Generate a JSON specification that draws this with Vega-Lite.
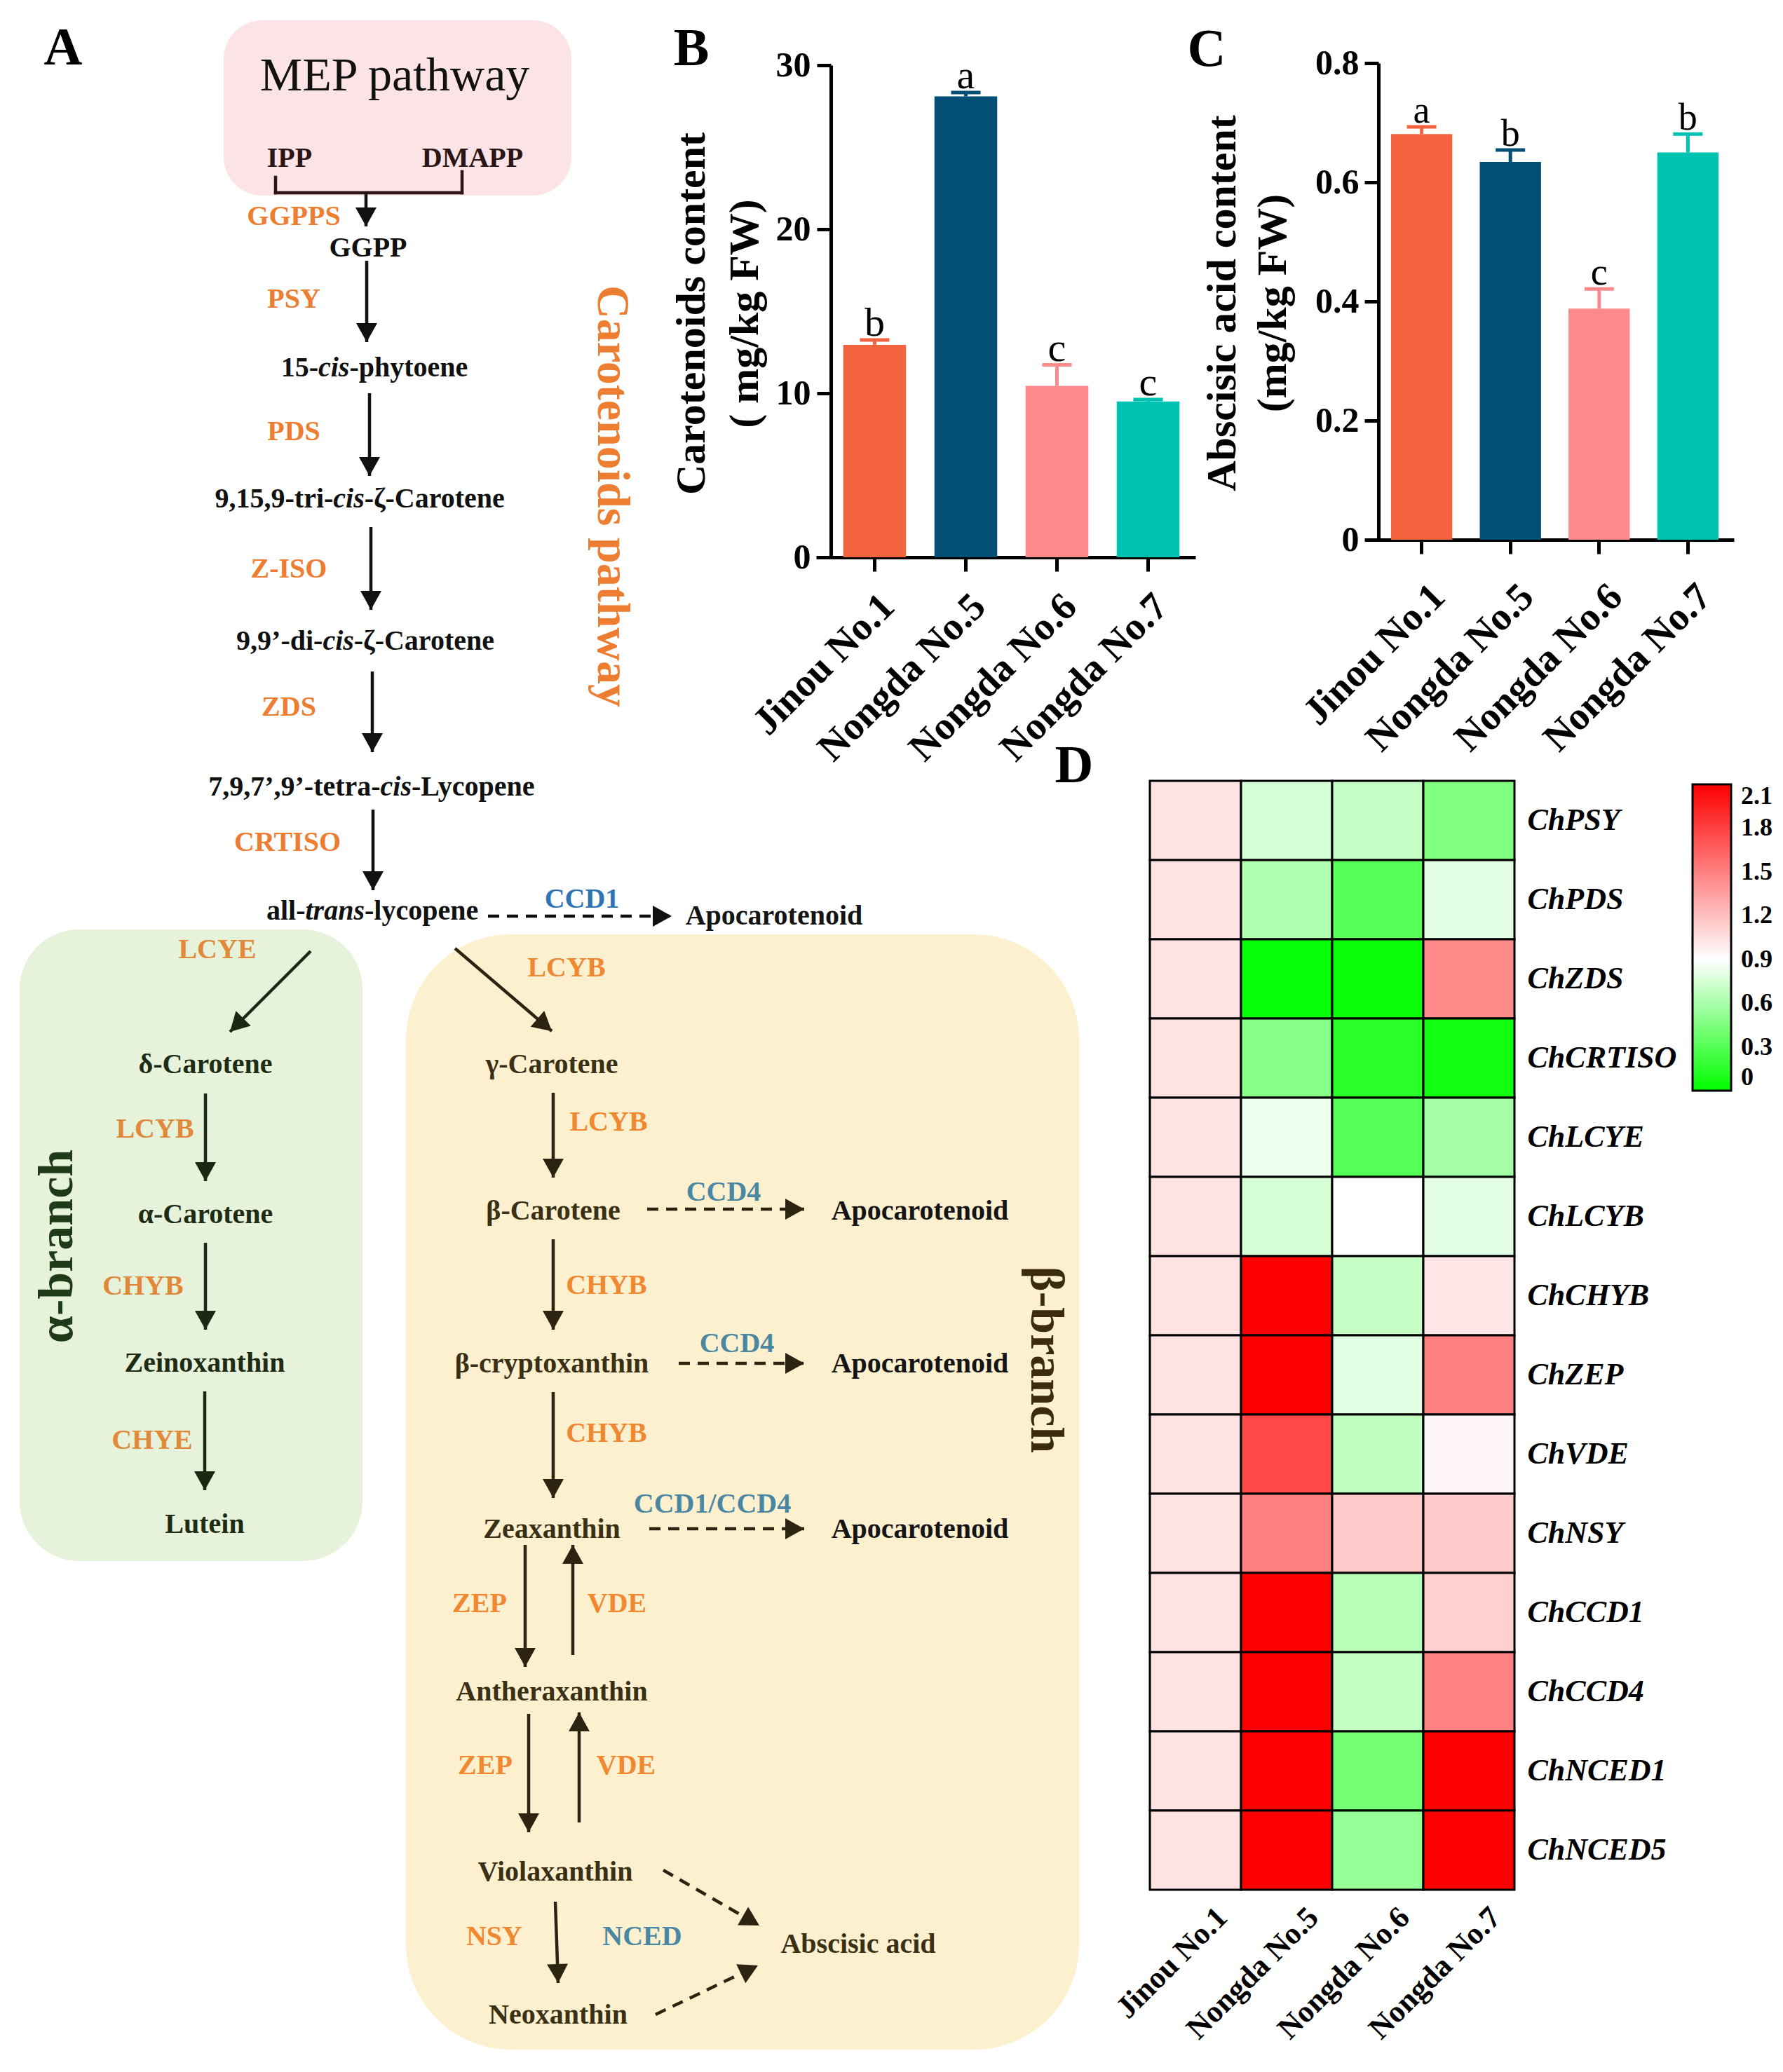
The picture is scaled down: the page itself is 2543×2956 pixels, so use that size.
{
  "$schema": "https://vega.github.io/schema/vega-lite/v6.json",
  "usermeta": {"embedOptions": {"actions": false}},
  "background": "white",
  "padding": 0,
  "autosize": {"type": "pad"},
  "config": {
    "font": "Liberation Serif",
    "view": {"stroke": null},
    "text": {"font": "Liberation Serif"},
    "axis": {"labelFont": "Liberation Serif", "titleFont": "Liberation Serif"},
    "legend": {"labelFont": "Liberation Serif", "titleFont": "Liberation Serif"}
  },
  "columns": 3,
  "spacing": 0,
  "bounds": "flush",
  "align": "each",
  "resolve": {"scale": {"x": "independent", "y": "independent", "color": "independent"}},
  "concat": [
    {
      "width": 1164,
      "height": 795,
      "data": {"values": [
        {"kind":"box","region":"mep","x":319,"y":29,"x2":815,"y2":279},
        {"kind":"box","region":"alpha","x":28,"y":1326,"x2":517,"y2":2227},
        {"kind":"box","region":"beta","x":579,"y":1333,"x2":1539,"y2":2924},
        {"kind":"link","region":"mep","x":393,"y":253,"x2":393,"y2":275},
        {"kind":"link","region":"mep","x":393,"y":275,"x2":659,"y2":275},
        {"kind":"link","region":"mep","x":659,"y":245,"x2":659,"y2":275},
        {"kind":"arrow","line":"solid","region":"main","x":522,"y":275,"x2":522,"y2":323,"heading":180},
        {"kind":"arrow","line":"solid","region":"main","x":523,"y":372,"x2":523,"y2":488,"heading":180},
        {"kind":"arrow","line":"solid","region":"main","x":527,"y":561,"x2":527,"y2":679,"heading":180},
        {"kind":"arrow","line":"solid","region":"main","x":529,"y":752,"x2":529,"y2":870,"heading":180},
        {"kind":"arrow","line":"solid","region":"main","x":531,"y":958,"x2":531,"y2":1073,"heading":180},
        {"kind":"arrow","line":"solid","region":"main","x":532,"y":1155,"x2":532,"y2":1270,"heading":180},
        {"kind":"arrow","line":"dashed","region":"main","x":696,"y":1307,"x2":958,"y2":1307,"heading":90},
        {"kind":"arrow","line":"solid","region":"alpha","x":443,"y":1357,"x2":328,"y2":1472,"heading":225},
        {"kind":"arrow","line":"solid","region":"alpha","x":293,"y":1560,"x2":293,"y2":1685,"heading":180},
        {"kind":"arrow","line":"solid","region":"alpha","x":293,"y":1773,"x2":293,"y2":1897,"heading":180},
        {"kind":"arrow","line":"solid","region":"alpha","x":292,"y":1985,"x2":292,"y2":2126,"heading":180},
        {"kind":"arrow","line":"solid","region":"beta","x":649,"y":1353,"x2":787,"y2":1471,"heading":130.5},
        {"kind":"arrow","line":"solid","region":"beta","x":789,"y":1559,"x2":789,"y2":1680,"heading":180},
        {"kind":"arrow","line":"solid","region":"beta","x":789,"y":1768,"x2":789,"y2":1897,"heading":180},
        {"kind":"arrow","line":"solid","region":"beta","x":789,"y":1986,"x2":789,"y2":2137,"heading":180},
        {"kind":"arrow","line":"solid","region":"beta","x":749,"y":2204,"x2":749,"y2":2378,"heading":180},
        {"kind":"arrow","line":"solid","region":"beta","x":817,"y":2361,"x2":817,"y2":2204,"heading":0},
        {"kind":"arrow","line":"solid","region":"beta","x":754,"y":2445,"x2":754,"y2":2614,"heading":180},
        {"kind":"arrow","line":"solid","region":"beta","x":826,"y":2600,"x2":826,"y2":2443,"heading":0},
        {"kind":"arrow","line":"solid","region":"beta","x":792,"y":2713,"x2":796,"y2":2829,"heading":178},
        {"kind":"arrow","line":"dashed","region":"beta","x":923,"y":1725,"x2":1147,"y2":1725,"heading":90},
        {"kind":"arrow","line":"dashed","region":"beta","x":968,"y":1945,"x2":1147,"y2":1945,"heading":90},
        {"kind":"arrow","line":"dashed","region":"beta","x":926,"y":2181,"x2":1147,"y2":2181,"heading":90},
        {"kind":"arrow","line":"dashed","region":"beta","x":946,"y":2668,"x2":1083,"y2":2747,"heading":120},
        {"kind":"arrow","line":"dashed","region":"beta","x":935,"y":2874,"x2":1081,"y2":2804,"heading":64},
        {"kind":"text","role":"panel","region":"main","label":"A","x":90,"y":69},
        {"kind":"text","role":"panel","region":"main","label":"B","x":986,"y":70},
        {"kind":"text","role":"panel","region":"main","label":"C","x":1721,"y":71},
        {"kind":"text","role":"title","region":"mep","label":"MEP pathway","x":563,"y":109},
        {"kind":"text","role":"compound","region":"mep","label":"IPP","x":413,"y":226},
        {"kind":"text","role":"compound","region":"mep","label":"DMAPP","x":674,"y":226},
        {"kind":"text","role":"enzyme","region":"main","label":"GGPPS","x":419,"y":309},
        {"kind":"text","role":"enzyme","region":"main","label":"PSY","x":419,"y":427},
        {"kind":"text","role":"enzyme","region":"main","label":"PDS","x":419,"y":616},
        {"kind":"text","role":"enzyme","region":"main","label":"Z-ISO","x":412,"y":812},
        {"kind":"text","role":"enzyme","region":"main","label":"ZDS","x":412,"y":1009},
        {"kind":"text","role":"enzyme","region":"main","label":"CRTISO","x":410,"y":1202},
        {"kind":"text","role":"compound","region":"main","label":"GGPP","x":525,"y":354},
        {"kind":"seg","part":"upright","label":"15-","x":400.7,"y":525},
        {"kind":"seg","part":"italic","label":"cis","x":454.0,"y":525},
        {"kind":"seg","part":"upright","label":"-phytoene","x":498.4,"y":525},
        {"kind":"seg","part":"upright","label":"9,15,9-tri-","x":306.5,"y":712},
        {"kind":"seg","part":"italic","label":"cis","x":475.3,"y":712},
        {"kind":"seg","part":"upright","label":"-ζ-Carotene","x":519.7,"y":712},
        {"kind":"seg","part":"upright","label":"9,9’-di-","x":337.1,"y":915},
        {"kind":"seg","part":"italic","label":"cis","x":460.4,"y":915},
        {"kind":"seg","part":"upright","label":"-ζ-Carotene","x":504.8,"y":915},
        {"kind":"seg","part":"upright","label":"7,9,7’,9’-tetra-","x":297.2,"y":1123},
        {"kind":"seg","part":"italic","label":"cis","x":542.6,"y":1123},
        {"kind":"seg","part":"upright","label":"-Lycopene","x":587.0,"y":1123},
        {"kind":"seg","part":"upright","label":"all-","x":379.9,"y":1300},
        {"kind":"seg","part":"italic","label":"trans","x":435.5,"y":1300},
        {"kind":"seg","part":"upright","label":"-lycopene","x":520.0,"y":1300},
        {"kind":"text","role":"cleavage","region":"main","label":"CCD1","x":830,"y":1283},
        {"kind":"text","role":"product","region":"main","label":"Apocarotenoid","x":1104,"y":1307},
        {"kind":"text","role":"pathway","region":"main","label":"Carotenoids pathway","x":873,"y":708},
        {"kind":"text","role":"enzyme","region":"alpha","label":"LCYE","x":310,"y":1355},
        {"kind":"text","role":"enzyme","region":"alpha","label":"LCYB","x":221,"y":1611},
        {"kind":"text","role":"enzyme","region":"alpha","label":"CHYB","x":204,"y":1835},
        {"kind":"text","role":"enzyme","region":"alpha","label":"CHYE","x":217,"y":2055},
        {"kind":"text","role":"compound","region":"alpha","label":"δ-Carotene","x":293,"y":1519},
        {"kind":"text","role":"compound","region":"alpha","label":"α-Carotene","x":293,"y":1733},
        {"kind":"text","role":"compound","region":"alpha","label":"Zeinoxanthin","x":292,"y":1945},
        {"kind":"text","role":"compound","region":"alpha","label":"Lutein","x":292,"y":2175},
        {"kind":"text","role":"branch","region":"alpha","label":"α-branch","x":82,"y":1778},
        {"kind":"text","role":"enzyme","region":"beta","label":"LCYB","x":808,"y":1381},
        {"kind":"text","role":"enzyme","region":"beta","label":"LCYB","x":868,"y":1601},
        {"kind":"text","role":"enzyme","region":"beta","label":"CHYB","x":865,"y":1834},
        {"kind":"text","role":"enzyme","region":"beta","label":"CHYB","x":865,"y":2045},
        {"kind":"text","role":"enzyme","region":"beta","label":"ZEP","x":684,"y":2288},
        {"kind":"text","role":"enzyme","region":"beta","label":"VDE","x":880,"y":2288},
        {"kind":"text","role":"enzyme","region":"beta","label":"ZEP","x":692,"y":2519},
        {"kind":"text","role":"enzyme","region":"beta","label":"VDE","x":893,"y":2519},
        {"kind":"text","role":"enzyme","region":"beta","label":"NSY","x":705,"y":2763},
        {"kind":"text","role":"cleavage","region":"beta","label":"CCD4","x":1032,"y":1701},
        {"kind":"text","role":"cleavage","region":"beta","label":"CCD4","x":1051,"y":1917},
        {"kind":"text","role":"cleavage","region":"beta","label":"CCD1/CCD4","x":1016,"y":2146},
        {"kind":"text","role":"cleavage","region":"beta","label":"NCED","x":916,"y":2763},
        {"kind":"text","role":"compound","region":"beta","label":"γ-Carotene","x":787,"y":1519},
        {"kind":"text","role":"compound","region":"beta","label":"β-Carotene","x":789,"y":1728},
        {"kind":"text","role":"compound","region":"beta","label":"β-cryptoxanthin","x":787,"y":1946},
        {"kind":"text","role":"compound","region":"beta","label":"Zeaxanthin","x":787,"y":2182},
        {"kind":"text","role":"compound","region":"beta","label":"Antheraxanthin","x":787,"y":2414},
        {"kind":"text","role":"compound","region":"beta","label":"Violaxanthin","x":792,"y":2671},
        {"kind":"text","role":"compound","region":"beta","label":"Neoxanthin","x":796,"y":2875},
        {"kind":"text","role":"compound","region":"beta","label":"Abscisic acid","x":1224,"y":2774},
        {"kind":"text","role":"product","region":"beta","label":"Apocarotenoid","x":1312,"y":1728},
        {"kind":"text","role":"product","region":"beta","label":"Apocarotenoid","x":1312,"y":1946},
        {"kind":"text","role":"product","region":"beta","label":"Apocarotenoid","x":1312,"y":2182},
        {"kind":"text","role":"branch","region":"beta","label":"β-branch","x":1491,"y":1940}
      ]},
      "encoding": {
        "x": {"field": "x", "type": "quantitative", "scale": {"domain": [0, 1164], "range": [0, 1164], "nice": false, "zero": false}, "axis": null},
        "y": {"field": "y", "type": "quantitative", "scale": {"domain": [0, 795], "range": [0, 795], "nice": false, "zero": false}, "axis": null}
      },
      "resolve": {"scale": {"color": "independent"}},
      "layer": [
        {"transform": [{"filter": "datum.kind === 'box' && datum.region === 'mep'"}],
         "mark": {"type": "rect", "cornerRadius": 55, "color": "#fce4e6"},
         "encoding": {"x2": {"field": "x2"}, "y2": {"field": "y2"}}},
        {"transform": [{"filter": "datum.kind === 'box' && datum.region === 'alpha'"}],
         "mark": {"type": "rect", "cornerRadius": 85, "color": "#e6f2d9"},
         "encoding": {"x2": {"field": "x2"}, "y2": {"field": "y2"}}},
        {"transform": [{"filter": "datum.kind === 'box' && datum.region === 'beta'"}],
         "mark": {"type": "rect", "cornerRadius": 150, "color": "#fdf0cf"},
         "encoding": {"x2": {"field": "x2"}, "y2": {"field": "y2"}}},
        {"transform": [{"filter": "datum.kind === 'link'"}],
         "mark": {"type": "rule", "strokeWidth": 4.5, "strokeCap": "square", "color": "#2b1515"},
         "encoding": {"x2": {"field": "x2"}, "y2": {"field": "y2"}}},
        {"transform": [{"filter": "datum.kind === 'arrow' && datum.line === 'solid'"}],
         "mark": {"type": "rule", "strokeWidth": 4.5},
         "encoding": {"x2": {"field": "x2"}, "y2": {"field": "y2"},
           "color": {"field": "region", "type": "nominal", "scale": {"domain": ["main", "alpha", "beta"], "range": ["#111111", "#1b2812", "#2c2410"]}, "legend": null}}},
        {"transform": [{"filter": "datum.kind === 'arrow' && datum.line === 'dashed'"}],
         "mark": {"type": "rule", "strokeWidth": 4.5, "strokeDash": [16, 11]},
         "encoding": {"x2": {"field": "x2"}, "y2": {"field": "y2"},
           "color": {"field": "region", "type": "nominal", "scale": {"domain": ["main", "alpha", "beta"], "range": ["#111111", "#1b2812", "#2c2410"]}, "legend": null}}},
        {"transform": [{"filter": "datum.kind === 'arrow'"}],
         "mark": {"type": "point", "shape": "M0,0L-1,1.8L1,1.8Z", "filled": true, "opacity": 1, "size": 900, "strokeWidth": 0},
         "encoding": {
           "x": {"field": "x2", "type": "quantitative", "scale": {"domain": [0, 1164], "range": [0, 1164], "nice": false, "zero": false}, "axis": null},
           "y": {"field": "y2", "type": "quantitative", "scale": {"domain": [0, 795], "range": [0, 795], "nice": false, "zero": false}, "axis": null},
           "angle": {"field": "heading", "type": "quantitative", "scale": null},
           "color": {"field": "region", "type": "nominal", "scale": {"domain": ["main", "alpha", "beta"], "range": ["#111111", "#1b2812", "#2c2410"]}, "legend": null}}},
        {"transform": [{"filter": "datum.kind === 'text' && datum.role === 'compound'"}],
         "mark": {"type": "text", "fontSize": 40, "fontWeight": "bold", "align": "center", "baseline": "middle"},
         "encoding": {"text": {"field": "label", "type": "nominal"},
           "color": {"field": "region", "type": "nominal", "scale": {"domain": ["main", "mep", "alpha", "beta"], "range": ["#111111", "#2b1515", "#1f2c15", "#3a3015"]}, "legend": null}}},
        {"transform": [{"filter": "datum.kind === 'seg' && datum.part === 'upright'"}],
         "mark": {"type": "text", "fontSize": 40, "fontWeight": "bold", "align": "left", "baseline": "middle", "color": "#111111"},
         "encoding": {"text": {"field": "label", "type": "nominal"}}},
        {"transform": [{"filter": "datum.kind === 'seg' && datum.part === 'italic'"}],
         "mark": {"type": "text", "fontSize": 40, "fontWeight": "bold", "fontStyle": "italic", "align": "left", "baseline": "middle", "color": "#111111"},
         "encoding": {"text": {"field": "label", "type": "nominal"}}},
        {"transform": [{"filter": "datum.kind === 'text' && datum.role === 'product'"}],
         "mark": {"type": "text", "fontSize": 40, "fontWeight": "bold", "align": "center", "baseline": "middle", "color": "#151515"},
         "encoding": {"text": {"field": "label", "type": "nominal"}}},
        {"transform": [{"filter": "datum.kind === 'text' && datum.role === 'enzyme'"}],
         "mark": {"type": "text", "fontSize": 40, "fontWeight": "bold", "align": "center", "baseline": "middle"},
         "encoding": {"text": {"field": "label", "type": "nominal"},
           "color": {"field": "region", "type": "nominal", "scale": {"domain": ["main", "alpha", "beta"], "range": ["#ed7d31", "#e1893a", "#ef8830"]}, "legend": null}}},
        {"transform": [{"filter": "datum.kind === 'text' && datum.role === 'cleavage'"}],
         "mark": {"type": "text", "fontSize": 40, "fontWeight": "bold", "align": "center", "baseline": "middle"},
         "encoding": {"text": {"field": "label", "type": "nominal"},
           "color": {"field": "region", "type": "nominal", "scale": {"domain": ["main", "beta"], "range": ["#2e75b6", "#4a87a2"]}, "legend": null}}},
        {"transform": [{"filter": "datum.kind === 'text' && datum.role === 'title'"}],
         "mark": {"type": "text", "fontSize": 68, "fontWeight": "normal", "align": "center", "baseline": "middle", "color": "#111111"},
         "encoding": {"text": {"field": "label", "type": "nominal"}}},
        {"transform": [{"filter": "datum.kind === 'text' && datum.role === 'panel'"}],
         "mark": {"type": "text", "fontSize": 76, "fontWeight": "bold", "align": "center", "baseline": "middle", "color": "#000000"},
         "encoding": {"text": {"field": "label", "type": "nominal"}}},
        {"transform": [{"filter": "datum.kind === 'text' && datum.role === 'pathway'"}],
         "mark": {"type": "text", "fontSize": 66, "fontWeight": "bold", "align": "center", "baseline": "middle", "angle": 90, "color": "#ed7d31"},
         "encoding": {"text": {"field": "label", "type": "nominal"}}},
        {"transform": [{"filter": "datum.kind === 'text' && datum.role === 'branch' && datum.region === 'alpha'"}],
         "mark": {"type": "text", "fontSize": 70, "fontWeight": "bold", "align": "center", "baseline": "middle", "angle": 270, "color": "#1e3a17"},
         "encoding": {"text": {"field": "label", "type": "nominal"}}},
        {"transform": [{"filter": "datum.kind === 'text' && datum.role === 'branch' && datum.region === 'beta'"}],
         "mark": {"type": "text", "fontSize": 68, "fontWeight": "bold", "align": "center", "baseline": "middle", "angle": 90, "color": "#3a2c0c"},
         "encoding": {"text": {"field": "label", "type": "nominal"}}}
      ]
    },
    {
      "width": 541,
      "height": 795,
      "data": {"values": [
        {"cultivar": "Jinou No.1", "mean": 12.95, "upper": 13.25, "letter": "b"},
        {"cultivar": "Nongda No.5", "mean": 28.1, "upper": 28.33, "letter": "a"},
        {"cultivar": "Nongda No.6", "mean": 10.45, "upper": 11.73, "letter": "c"},
        {"cultivar": "Nongda No.7", "mean": 9.5, "upper": 9.62, "letter": "c"}
      ]},
      "encoding": {
        "x": {"field": "cultivar", "type": "nominal",
          "scale": {"domain": ["Jinou No.1", "Nongda No.5", "Nongda No.6", "Nongda No.7"], "paddingInner": 0.3115, "paddingOuter": 0.2365, "align": 0.63},
          "axis": {"title": null, "labelAngle": -45, "labelFontSize": 56, "labelFontWeight": "bold", "labelColor": "black", "labelPadding": 22, "labelLimit": 1000,
                   "tickSize": 20, "tickWidth": 5, "tickColor": "black", "domainWidth": 5, "domainColor": "black"}}
      },
      "layer": [
        {"mark": {"type": "bar"},
         "encoding": {
           "y": {"field": "mean", "type": "quantitative",
             "scale": {"domain": [0, 30], "range": [795, 93], "nice": false},
             "axis": {"title": ["Carotenoids content", "( mg/kg FW)"], "values": [0, 10, 20, 30], "offset": -21, "grid": false,
                      "domainWidth": 5, "domainColor": "black", "tickWidth": 5, "tickColor": "black", "tickSize": 20,
                      "labelFontSize": 50, "labelFontWeight": "bold", "labelColor": "black", "labelPadding": 9,
                      "titleFontSize": 60, "titleFontWeight": "bold", "titleColor": "black", "titleAngle": 270,
                      "titleAlign": "center", "titleBaseline": "middle", "titleLineHeight": 76, "titleX": -199, "titleY": 447}},
           "color": {"field": "cultivar", "type": "nominal", "scale": {"domain": ["Jinou No.1", "Nongda No.5", "Nongda No.6", "Nongda No.7"], "range": ["#f4633f", "#034e74", "#fe898b", "#00c2b1"]}, "legend": null}}},
        {"mark": {"type": "rule", "strokeWidth": 5},
         "encoding": {
           "y": {"field": "mean", "type": "quantitative"},
           "y2": {"field": "upper"},
           "color": {"field": "cultivar", "type": "nominal", "legend": null}}},
        {"mark": {"type": "tick", "thickness": 5, "size": 42, "opacity": 1},
         "encoding": {
           "y": {"field": "upper", "type": "quantitative"},
           "color": {"field": "cultivar", "type": "nominal", "legend": null}}},
        {"mark": {"type": "text", "fontSize": 58, "dy": -6, "baseline": "alphabetic", "color": "black"},
         "encoding": {
           "y": {"field": "upper", "type": "quantitative"},
           "text": {"field": "letter", "type": "nominal"}}}
      ]
    },
    {
      "width": 526,
      "height": 770,
      "data": {"values": [
        {"cultivar": "Jinou No.1", "mean": 0.681, "upper": 0.693, "letter": "a"},
        {"cultivar": "Nongda No.5", "mean": 0.634, "upper": 0.654, "letter": "b"},
        {"cultivar": "Nongda No.6", "mean": 0.388, "upper": 0.421, "letter": "c"},
        {"cultivar": "Nongda No.7", "mean": 0.650, "upper": 0.681, "letter": "b"}
      ]},
      "encoding": {
        "x": {"field": "cultivar", "type": "nominal",
          "scale": {"domain": ["Jinou No.1", "Nongda No.5", "Nongda No.6", "Nongda No.7"], "paddingInner": 0.31, "paddingOuter": 0.2326, "align": 0.627},
          "axis": {"title": null, "labelAngle": -45, "labelFontSize": 56, "labelFontWeight": "bold", "labelColor": "black", "labelPadding": 33, "labelOffset": 5, "labelLimit": 1000,
                   "tickSize": 20, "tickWidth": 5, "tickColor": "black", "domainWidth": 5, "domainColor": "black"}}
      },
      "layer": [
        {"mark": {"type": "bar"},
         "encoding": {
           "y": {"field": "mean", "type": "quantitative",
             "scale": {"domain": [0, 0.8], "range": [770, 90], "nice": false},
             "axis": {"title": ["Abscisic acid content", "(mg/kg FW)"], "values": [0, 0.2, 0.4, 0.6, 0.8], "format": ".1~f", "offset": -19, "grid": false,
                      "domainWidth": 5, "domainColor": "black", "tickWidth": 5, "tickColor": "black", "tickSize": 20,
                      "labelFontSize": 50, "labelFontWeight": "bold", "labelColor": "black", "labelPadding": 8,
                      "titleFontSize": 60, "titleFontWeight": "bold", "titleColor": "black", "titleAngle": 270,
                      "titleAlign": "center", "titleBaseline": "middle", "titleLineHeight": 72, "titleX": -223, "titleY": 432}},
           "color": {"field": "cultivar", "type": "nominal", "scale": {"domain": ["Jinou No.1", "Nongda No.5", "Nongda No.6", "Nongda No.7"], "range": ["#f4633f", "#034e74", "#fe898b", "#00c2b1"]}, "legend": null}}},
        {"mark": {"type": "rule", "strokeWidth": 5},
         "encoding": {
           "y": {"field": "mean", "type": "quantitative"},
           "y2": {"field": "upper"},
           "color": {"field": "cultivar", "type": "nominal", "legend": null}}},
        {"mark": {"type": "tick", "thickness": 5, "size": 42, "opacity": 1},
         "encoding": {
           "y": {"field": "upper", "type": "quantitative"},
           "color": {"field": "cultivar", "type": "nominal", "legend": null}}},
        {"mark": {"type": "text", "fontSize": 54, "dy": -6, "baseline": "alphabetic", "color": "black"},
         "encoding": {
           "y": {"field": "upper", "type": "quantitative"},
           "text": {"field": "letter", "type": "nominal"}}}
      ]
    },
    {
      "width": 1164,
      "height": 1901,
      "data": {"values": [{"label": "D", "x": 1532, "y": 1093}]},
      "mark": {"type": "text", "fontSize": 76, "fontWeight": "bold", "color": "black", "align": "center", "baseline": "middle"},
      "encoding": {
        "x": {"field": "x", "type": "quantitative", "scale": {"domain": [0, 1164], "range": [0, 1164], "nice": false, "zero": false}, "axis": null},
        "y": {"field": "y", "type": "quantitative", "scale": {"domain": [795, 2696], "range": [0, 1901], "nice": false, "zero": false}, "axis": null},
        "text": {"field": "label", "type": "nominal"}
      }
    },
    {
      "width": 783,
      "height": 1901,
      "data": {"values": [
        {"gene":"ChPSY","cultivar":"Jinou No.1","expr":1.03},{"gene":"ChPSY","cultivar":"Nongda No.5","expr":0.75},{"gene":"ChPSY","cultivar":"Nongda No.6","expr":0.70},{"gene":"ChPSY","cultivar":"Nongda No.7","expr":0.45},
        {"gene":"ChPDS","cultivar":"Jinou No.1","expr":1.03},{"gene":"ChPDS","cultivar":"Nongda No.5","expr":0.62},{"gene":"ChPDS","cultivar":"Nongda No.6","expr":0.31},{"gene":"ChPDS","cultivar":"Nongda No.7","expr":0.80},
        {"gene":"ChZDS","cultivar":"Jinou No.1","expr":1.03},{"gene":"ChZDS","cultivar":"Nongda No.5","expr":0.02},{"gene":"ChZDS","cultivar":"Nongda No.6","expr":0.03},{"gene":"ChZDS","cultivar":"Nongda No.7","expr":1.45},
        {"gene":"ChCRTISO","cultivar":"Jinou No.1","expr":1.03},{"gene":"ChCRTISO","cultivar":"Nongda No.5","expr":0.47},{"gene":"ChCRTISO","cultivar":"Nongda No.6","expr":0.15},{"gene":"ChCRTISO","cultivar":"Nongda No.7","expr":0.06},
        {"gene":"ChLCYE","cultivar":"Jinou No.1","expr":1.03},{"gene":"ChLCYE","cultivar":"Nongda No.5","expr":0.84},{"gene":"ChLCYE","cultivar":"Nongda No.6","expr":0.30},{"gene":"ChLCYE","cultivar":"Nongda No.7","expr":0.58},
        {"gene":"ChLCYB","cultivar":"Jinou No.1","expr":1.03},{"gene":"ChLCYB","cultivar":"Nongda No.5","expr":0.75},{"gene":"ChLCYB","cultivar":"Nongda No.6","expr":0.90},{"gene":"ChLCYB","cultivar":"Nongda No.7","expr":0.80},
        {"gene":"ChCHYB","cultivar":"Jinou No.1","expr":1.03},{"gene":"ChCHYB","cultivar":"Nongda No.5","expr":2.1},{"gene":"ChCHYB","cultivar":"Nongda No.6","expr":0.70},{"gene":"ChCHYB","cultivar":"Nongda No.7","expr":1.02},
        {"gene":"ChZEP","cultivar":"Jinou No.1","expr":1.03},{"gene":"ChZEP","cultivar":"Nongda No.5","expr":2.1},{"gene":"ChZEP","cultivar":"Nongda No.6","expr":0.80},{"gene":"ChZEP","cultivar":"Nongda No.7","expr":1.50},
        {"gene":"ChVDE","cultivar":"Jinou No.1","expr":1.03},{"gene":"ChVDE","cultivar":"Nongda No.5","expr":1.76},{"gene":"ChVDE","cultivar":"Nongda No.6","expr":0.68},{"gene":"ChVDE","cultivar":"Nongda No.7","expr":0.94},
        {"gene":"ChNSY","cultivar":"Jinou No.1","expr":1.03},{"gene":"ChNSY","cultivar":"Nongda No.5","expr":1.50},{"gene":"ChNSY","cultivar":"Nongda No.6","expr":1.15},{"gene":"ChNSY","cultivar":"Nongda No.7","expr":1.15},
        {"gene":"ChCCD1","cultivar":"Jinou No.1","expr":1.03},{"gene":"ChCCD1","cultivar":"Nongda No.5","expr":2.1},{"gene":"ChCCD1","cultivar":"Nongda No.6","expr":0.65},{"gene":"ChCCD1","cultivar":"Nongda No.7","expr":1.12},
        {"gene":"ChCCD4","cultivar":"Jinou No.1","expr":1.03},{"gene":"ChCCD4","cultivar":"Nongda No.5","expr":2.1},{"gene":"ChCCD4","cultivar":"Nongda No.6","expr":0.69},{"gene":"ChCCD4","cultivar":"Nongda No.7","expr":1.49},
        {"gene":"ChNCED1","cultivar":"Jinou No.1","expr":1.03},{"gene":"ChNCED1","cultivar":"Nongda No.5","expr":2.1},{"gene":"ChNCED1","cultivar":"Nongda No.6","expr":0.41},{"gene":"ChNCED1","cultivar":"Nongda No.7","expr":2.1},
        {"gene":"ChNCED5","cultivar":"Jinou No.1","expr":1.03},{"gene":"ChNCED5","cultivar":"Nongda No.5","expr":2.1},{"gene":"ChNCED5","cultivar":"Nongda No.6","expr":0.53},{"gene":"ChNCED5","cultivar":"Nongda No.7","expr":2.1}
      ]},
      "mark": {"type": "rect", "stroke": "black", "strokeWidth": 3},
      "encoding": {
        "x": {"field": "cultivar", "type": "nominal",
          "scale": {"domain": ["Jinou No.1", "Nongda No.5", "Nongda No.6", "Nongda No.7"], "range": [476, 996], "padding": 0},
          "axis": {"orient": "bottom", "title": null, "labelAngle": -45, "labelFontSize": 44, "labelFontWeight": "bold", "labelColor": "black",
                   "ticks": false, "domain": false, "labelPadding": 17, "labelOffset": 23, "labelLimit": 1000}},
        "y": {"field": "gene", "type": "nominal",
          "scale": {"domain": ["ChPSY","ChPDS","ChZDS","ChCRTISO","ChLCYE","ChLCYB","ChCHYB","ChZEP","ChVDE","ChNSY","ChCCD1","ChCCD4","ChNCED1","ChNCED5"], "range": [319, 1901], "padding": 0},
          "axis": {"orient": "right", "offset": 213, "title": null, "ticks": false, "domain": false, "labelFontSize": 44, "labelFontStyle": "italic",
                   "labelFontWeight": "bold", "labelColor": "black", "labelPadding": 18, "labelLimit": 1000}},
        "color": {"field": "expr", "type": "quantitative",
          "scale": {"domain": [0, 0.9, 2.1], "range": ["#00ff00", "#ffffff", "#ff0000"], "interpolate": "rgb", "clamp": true},
          "legend": {"orient": "none", "legendX": 1250, "legendY": 324, "direction": "vertical", "gradientLength": 437, "gradientThickness": 55,
                     "title": null, "values": [0, 0.3, 0.6, 0.9, 1.2, 1.5, 1.8, 2.1], "format": ".1~f", "labelFontSize": 36, "labelFontWeight": "bold",
                     "labelColor": "black", "labelOffset": 14, "gradientStrokeColor": "black", "gradientStrokeWidth": 3, "labelOverlap": false, "labelBaseline": "middle"}}
      }
    }
  ]
}
